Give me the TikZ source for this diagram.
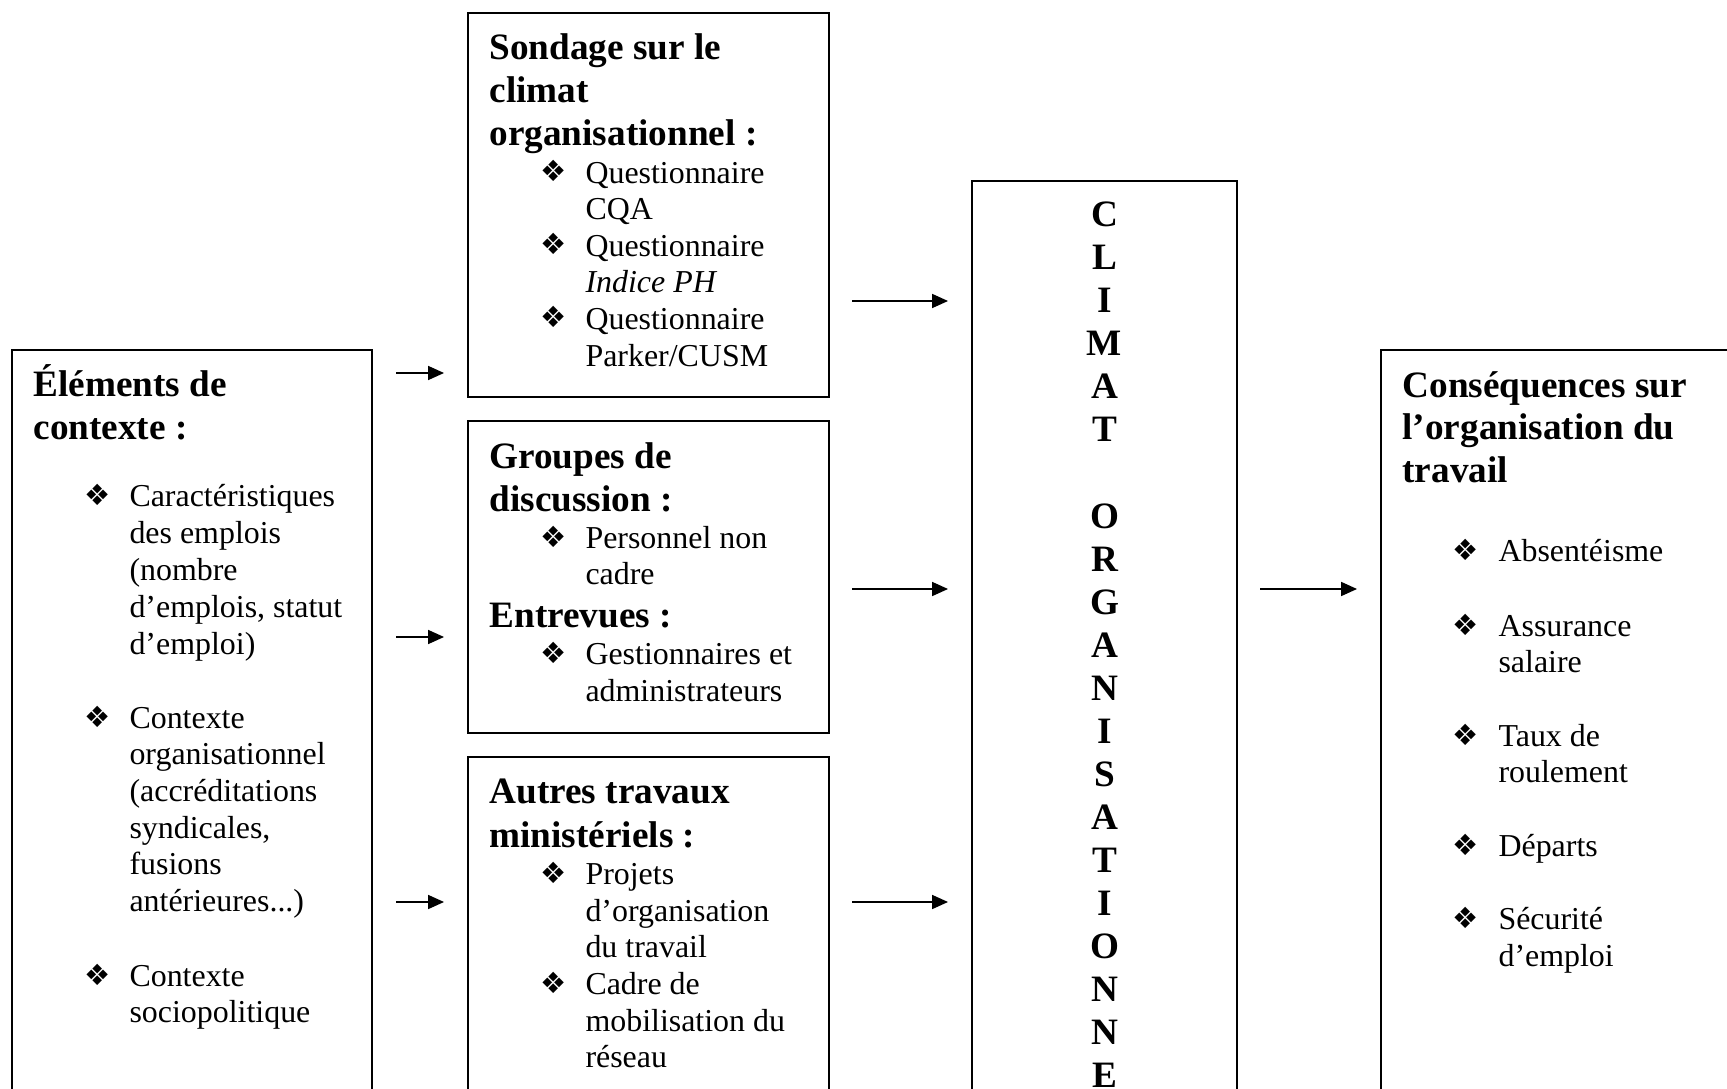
\documentclass[tikz,border=0pt]{standalone}
\usepackage{fontspec}
\setmainfont{Liberation Serif}
\newfontfamily\dingfont{DejaVu Sans}
\usetikzlibrary{arrows.meta,calc}
\def\pxunit{0.376pt}
\def\trdots{...}

\begin{document}
\begin{tikzpicture}[x=0.376pt,y=-0.376pt,
  frame/.style={draw, line width=0.7pt, inner sep=0, outer sep=0, anchor=north west},
  head/.style={font=\fontsize{14}{16}\selectfont\bfseries, inner sep=0, anchor=base west, yshift=-0.8pt},
  body/.style={font=\fontsize{12}{14}\selectfont, inner sep=0, anchor=base west, yshift=-0.4pt},
  bul/.style={font=\dingfont\fontsize{11}{12}\selectfont, inner sep=0, anchor=base west, xshift=-0.4pt},
  vert/.style={font=\fontsize{14}{16}\selectfont\bfseries, inner sep=0, anchor=base},
  arr/.style={line width=0.5pt, -{Triangle[length=6pt,width=5.3pt]}}]

\clip (0,0) rectangle (1727,1089);
\fill[white] (0,0) rectangle (1727,1089);

% boxes (several run past the lower and right edges)
\node[frame, minimum width={360*\pxunit}, minimum height={900*\pxunit}] (lb) at (12,350) {};
\node[frame, minimum width={361*\pxunit}, minimum height={384*\pxunit}] (s1) at (468,13) {};
\node[frame, minimum width={361*\pxunit}, minimum height={312*\pxunit}] (s2) at (468,421) {};
\node[frame, minimum width={361*\pxunit}, minimum height={450*\pxunit}] (s3) at (468,757) {};
\node[frame, minimum width={265*\pxunit}, minimum height={1000*\pxunit}] (cl) at (972,181) {};
\node[frame, minimum width={500*\pxunit}, minimum height={900*\pxunit}] (co) at (1381,350) {};

% arrow levels
\coordinate (ya) at (0,373);
\coordinate (yb) at (0,637);
\coordinate (yc) at (0,902);
\coordinate (yd) at (0,301);
\coordinate (ye) at (0,589);

\draw[arr] ($(lb.east |- ya)+(24,0)$) -- ($(s1.west |- ya)+(-24,0)$);
\draw[arr] ($(lb.east |- yb)+(24,0)$) -- ($(s2.west |- yb)+(-24,0)$);
\draw[arr] ($(lb.east |- yc)+(24,0)$) -- ($(s3.west |- yc)+(-24,0)$);
\draw[arr] ($(s1.east |- yd)+(23,0)$) -- ($(cl.west |- yd)+(-24,0)$);
\draw[arr] ($(s2.east |- ye)+(23,0)$) -- ($(cl.west |- ye)+(-24,0)$);
\draw[arr] ($(s3.east |- yc)+(23,0)$) -- ($(cl.west |- yc)+(-24,0)$);
\draw[arr] ($(cl.east |- ye)+(23,0)$) -- ($(co.west |- ye)+(-24,0)$);

% context box
\foreach \t/\y [count=\i] in {Éléments de/394, contexte :/437}
  \node[head] (lbh\i) at (33,\y) {\t};
\foreach \t/\y [count=\i] in {Caractéristiques/505, des emplois/542, {(nombre}/579,
    d’emplois{,} statut/616.5, d’emploi)/653.5, Contexte/727, organisationnel/763.5,
    {(accréditations}/800, syndicales{,}/837, fusions/873.5, antérieures\trdots)/910,
    Contexte/985, sociopolitique/1021.5}
  \node[body] (lbt\i) at (129,\y) {\t};

% survey box
\foreach \t/\y [count=\i] in {Sondage sur le/57, climat/100, organisationnel :/143}
  \node[head] (s1h\i) at (489,\y) {\t};
\foreach \t/\y [count=\i] in {Questionnaire/182, CQA/218.5, Questionnaire/255,
    \textit{Indice PH}/291.5, Questionnaire/328, {Parker{/}CUSM}/365}
  \node[body] (s1t\i) at (585,\y) {\t};

% discussion box
\foreach \t/\y [count=\i] in {Groupes de/466, discussion :/509, Entrevues :/625.5}
  \node[head] (s2h\i) at (489,\y) {\t};
\foreach \t/\y [count=\i] in {Personnel non/547.5, cadre/583.5, Gestionnaires et/663.5,
    administrateurs/700}
  \node[body] (s2t\i) at (585,\y) {\t};

% ministry box
\foreach \t/\y [count=\i] in {Autres travaux/801.5, ministériels :/845}
  \node[head] (s3h\i) at (489,\y) {\t};
\foreach \t/\y [count=\i] in {Projets/883, d’organisation/920, du travail/956.5,
    Cadre de/993, mobilisation du/1030, réseau/1066.5}
  \node[body] (s3t\i) at (585,\y) {\t};

% vertical title
\foreach \c/\k [count=\i] in {C/0,L/1,I/2,M/3,A/4,T/5,O/7,R/8,G/9,A/10,N/11,I/12,
    S/13,A/14,T/15,I/16,O/17,N/18,N/19,E/20}
  \node[vert] (ltr\i) at (1104.5,{227+43*\k}) {\c};

% consequences box
\foreach \t/\y [count=\i] in {Conséquences sur/395, l’organisation du/437.5, travail/480}
  \node[head] (coh\i) at (1402,\y) {\t};
\foreach \t/\y [count=\i] in {Absentéisme/560, Assurance/635, salaire/671.5, Taux de/745,
    roulement/781.5, Départs/855, Sécurité/928.5, d’emploi/965}
  \node[body] (cot\i) at (1498,\y) {\t};

% bullets
\foreach \x/\y [count=\i] in {85/505, 85/727, 85/985, 541/182, 541/255, 541/328,
    541/547.5, 541/663.5, 541/883, 541/993, 1453/560, 1453/635, 1453/745,
    1453/855, 1453/928.5}
  \node[bul] (bl\i) at (\x,\y) {❖};
\end{tikzpicture}
\end{document}
